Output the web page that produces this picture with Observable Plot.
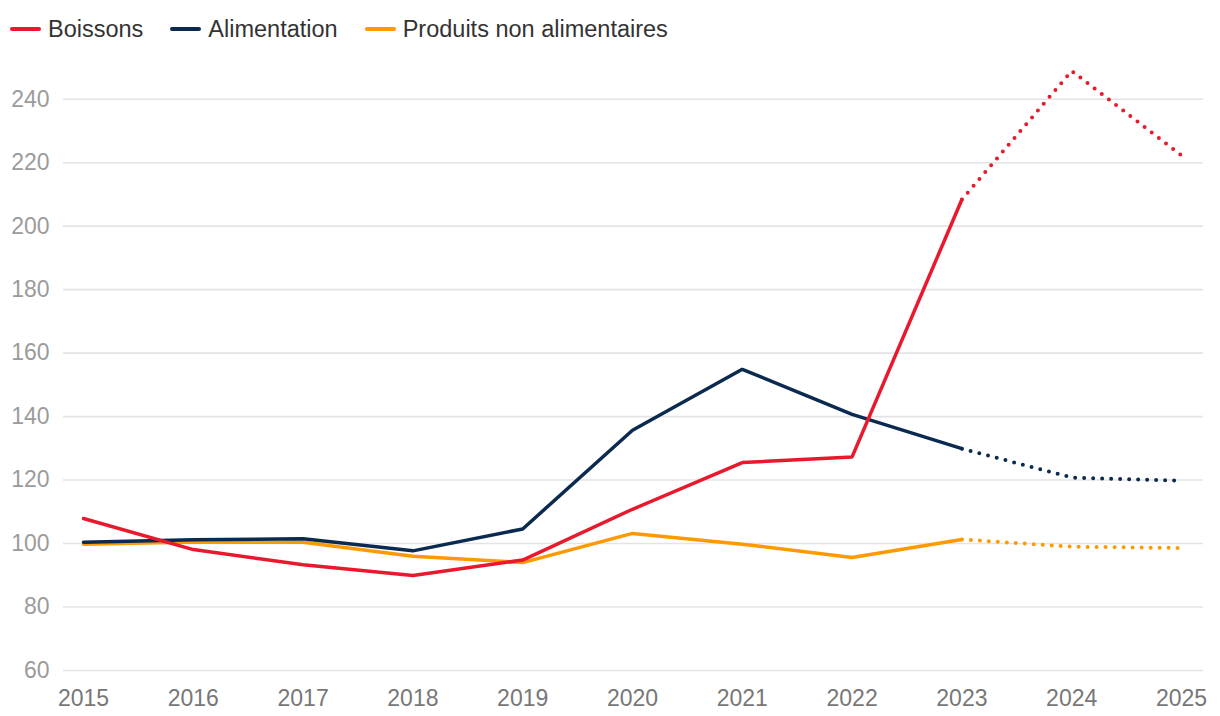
<!DOCTYPE html>
<html><head><meta charset="utf-8">
<script src="https://cdn.jsdelivr.net/npm/d3@7"></script>
<script src="https://cdn.jsdelivr.net/npm/@observablehq/plot@0.6"></script>
<style>
body{margin:0;background:#fff;font-family:"Liberation Sans",Arial,sans-serif;}
#legend{height:52px;display:flex;align-items:center;padding-left:10px;padding-top:6px;font-size:23.5px;color:#333;box-sizing:border-box;}
.item{display:flex;align-items:center;margin-right:27px;}
.sw{width:31px;height:4px;border-radius:2px;margin-right:7px;}
</style></head><body>
<div id="legend"></div><div id="chart"></div>
<script>
const years=[2015,2016,2017,2018,2019,2020,2021,2022,2023,2024,2025];
const boissons=[107.9,98.1,93.3,89.9,94.8,110.8,125.5,127.3,208.4,248.9,222.3];
const alimentation=[100.4,101.2,101.5,97.7,104.6,135.7,154.9,140.7,129.9,120.8,119.8];
const produits=[99.8,100.5,100.4,96.0,94.0,103.2,99.8,95.6,101.3,99.0,98.6];
const seriesNames=["Boissons","Alimentation","Produits non alimentaires"];
const seriesColors=["#e8192c","#0b2a4f","#ff9900"];
const lastActualYear=2023;
const yTicks=[60,80,100,120,140,160,180,200,220,240];

const seriesValues=[boissons,alimentation,produits];
const rows=[];
seriesNames.forEach((s,i)=>years.forEach((y,j)=>rows.push({series:s,year:y,value:seriesValues[i][j]})));

// legend
const leg=document.getElementById("legend");
seriesNames.forEach((s,i)=>{
  const it=document.createElement("div");it.className="item";
  const sw=document.createElement("div");sw.className="sw";sw.style.background=seriesColors[i];
  const t=document.createElement("span");t.textContent=s;
  it.appendChild(sw);it.appendChild(t);leg.appendChild(it);
});

const drawOrder=[2,1,0];
const marks=[
  Plot.ruleY(yTicks,{stroke:"#e4e4e4",strokeWidth:1.6}),
  Plot.axisY({ticks:yTicks,tickSize:0,tickPadding:14,fill:"#9b9b9b",fontSize:23,label:null}),
  Plot.axisX({ticks:years,tickFormat:d=>String(d),tickSize:0,tickPadding:19,fill:"#777",fontSize:23,label:null})
];
drawOrder.forEach(i=>{
  const s=seriesNames[i];
  const data=rows.filter(r=>r.series===s);
  marks.push(Plot.line(data.filter(r=>r.year<=lastActualYear),{x:"year",y:"value",stroke:seriesColors[i],strokeWidth:3.5,strokeLinejoin:"miter"}));
  marks.push(Plot.line(data.filter(r=>r.year>=lastActualYear),{x:"year",y:"value",stroke:seriesColors[i],strokeWidth:4,strokeDasharray:"0 9",strokeLinecap:"round"}));
});

const chart=Plot.plot({
  width:1220,height:664,
  marginTop:46.7,marginBottom:46,marginLeft:63,marginRight:17,
  style:{fontFamily:"'Liberation Sans',Arial,sans-serif",fontSize:"23px",background:"#fff"},
  x:{type:"linear",domain:[2015,2025],insetLeft:20,insetRight:22,label:null},
  y:{domain:[60,240],label:null},
  marks
});
document.getElementById("chart").appendChild(chart);
</script>
</body></html>
